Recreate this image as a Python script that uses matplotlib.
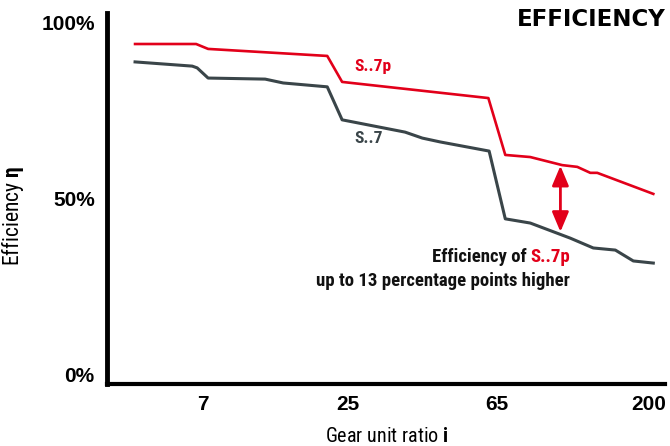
import numpy as np
import matplotlib
matplotlib.use("Agg")
import matplotlib.pyplot as plt
from matplotlib.scale import FuncScale

# ---- data ----
ratio_ticks = [7, 25, 65, 200]
tick_labels = ["7", "25", "65", "200"]
y_ticks = [0, 50, 100]
y_tick_labels = ["0%", "50%", "100%"]

s7p_ratio = [3.85, 6.58, 7.31, 20.8, 23.7, 61.4, 69.0, 83.1, 105.4, 117.9, 129.9, 136.8, 207.6]
s7p_eff = [94.0, 94.0, 92.6, 90.6, 83.2, 78.6, 62.4, 61.8, 59.5, 59.0, 57.3, 57.3, 51.3]

s7_ratio = [3.85, 6.36, 6.64, 7.31, 12.06, 14.13, 20.8, 23.7, 36.0, 40.2, 45.1, 61.7,
            69.0, 83.1, 111.9, 132.8, 156.5, 178.9, 207.6]
s7_eff = [88.9, 87.7, 87.2, 84.3, 84.0, 82.9, 81.8, 72.4, 68.9, 67.2, 66.1, 63.5,
          44.2, 43.0, 38.7, 35.9, 35.3, 32.2, 31.6]

arrow_ratio = 104
arrow_top = 59.3
arrow_bottom = 40.5

RED = "#e2001a"
GRAY = "#3a4549"

# ---- piecewise axis scale (ticks are not evenly spaced in log) ----
TICK_POS = [0.0, 1.0, 2.0276, 3.0690]
L = np.log10(ratio_ticks)


def fwd(x):
    x = np.asarray(x, dtype=float)
    lx = np.log10(np.maximum(x, 1e-9))
    left = TICK_POS[0] + (lx - L[0]) * (TICK_POS[1] - TICK_POS[0]) / (L[1] - L[0])
    right = TICK_POS[-1] + (lx - L[-1]) * (TICK_POS[-1] - TICK_POS[-2]) / (L[-1] - L[-2])
    mid = np.interp(lx, L, TICK_POS)
    return np.where(lx < L[0], left, np.where(lx > L[-1], right, mid))


def inv(p):
    p = np.asarray(p, dtype=float)
    left = L[0] + (p - TICK_POS[0]) * (L[1] - L[0]) / (TICK_POS[1] - TICK_POS[0])
    right = L[-1] + (p - TICK_POS[-1]) * (L[-1] - L[-2]) / (TICK_POS[-1] - TICK_POS[-2])
    mid = np.interp(p, TICK_POS, L)
    lx = np.where(p < TICK_POS[0], left, np.where(p > TICK_POS[-1], right, mid))
    return 10 ** lx


COND = ['Roboto Condensed', 'DejaVu Sans']
plt.rcParams['font.family'] = COND
plt.rcParams['mathtext.fontset'] = 'custom'
plt.rcParams['mathtext.rm'] = 'Roboto Condensed'
plt.rcParams['mathtext.it'] = 'Roboto Condensed'
plt.rcParams['mathtext.bf'] = 'Roboto Condensed:bold'

fig = plt.figure(figsize=(6.7, 4.46), dpi=100)
ax = fig.add_axes([0.160, 0.139, 0.833, 0.832])
ax.set_xscale(FuncScale(ax.xaxis, (fwd, inv)))

ax.plot(s7p_ratio, s7p_eff, color=RED, lw=1.9, solid_joinstyle='round')
ax.plot(s7_ratio, s7_eff, color=GRAY, lw=2.2, solid_joinstyle='round')

ax.set_xlim(3.015, 227.0)
ax.set_ylim(-2.85, 102.85)

ax.set_xticks(ratio_ticks)
ax.set_xticklabels(tick_labels)
ax.set_yticks(y_ticks)
ax.set_yticklabels(y_tick_labels)
ax.xaxis.set_minor_locator(matplotlib.ticker.NullLocator())
ax.tick_params(axis='both', length=0)
ax.tick_params(axis='x', pad=8)
ax.tick_params(axis='y', pad=9)
for lab in ax.get_xticklabels() + ax.get_yticklabels():
    lab.set_fontweight('bold')
    lab.set_family(['Liberation Sans', 'DejaVu Sans'])
    lab.set_fontsize(15)

for s in ['top', 'right']:
    ax.spines[s].set_visible(False)
ax.spines['left'].set_linewidth(3.5)
ax.spines['bottom'].set_linewidth(3.0)

ax.set_ylabel(r"Efficiency $\mathbf{\eta}$", fontsize=15.5)
ax.yaxis.set_label_coords(-0.145, 0.453)
ax.set_xlabel(r"Gear unit ratio $\mathbf{i}$", fontsize=14.5)
ax.xaxis.set_label_coords(0.5, -0.117)

ax.text(1.0, 0.981, "EFFICIENCY", transform=ax.transAxes, ha='right', va='center',
        fontsize=16.5, fontweight='bold', family='DejaVu Sans')

ax.text(26.0, 87.7, "S..7p", color=RED, fontsize=12.5, fontweight='bold', va='center', ha='left')
ax.text(26.0, 67.2, "S..7", color=GRAY, fontsize=12.5, fontweight='bold', va='center', ha='left')

red_t = ax.text(112, 33.3, "S..7p", color=RED, fontsize=13.5, fontweight='bold',
                ha='right', va='center')
ax.annotate("Efficiency of ", xy=(0, 0), xycoords=red_t, ha='right', va='bottom',
            fontsize=13.5, fontweight='bold', color='#111111')
ax.text(112, 26.5, "up to 13 percentage points higher", color='#111111', fontsize=13.5,
        fontweight='bold', ha='right', va='center')

ax.annotate("", xy=(arrow_ratio, arrow_bottom), xytext=(arrow_ratio, arrow_top),
            arrowprops=dict(arrowstyle="<|-|>,head_length=1.0,head_width=0.42",
                            mutation_scale=12, color=RED, lw=2, shrinkA=0, shrinkB=0))

fig.savefig("out.png", dpi=100)
